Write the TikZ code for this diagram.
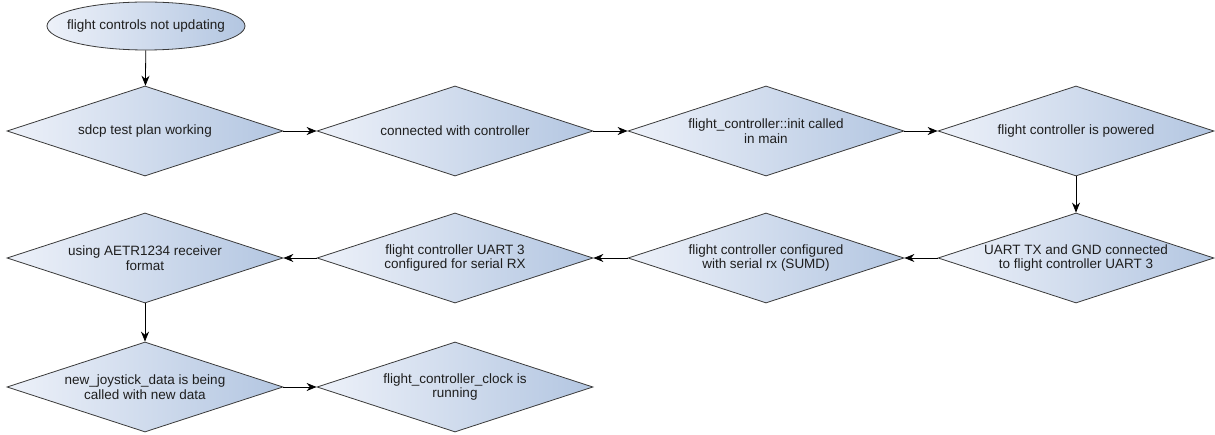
\documentclass[tikz,border=0pt]{standalone}
\usepackage{fontspec}
\setmainfont{Liberation Sans}
\usetikzlibrary{shapes.geometric, arrows.meta}
\definecolor{shadeL}{HTML}{EDF1F9}
\definecolor{shadeR}{HTML}{B3C6E1}
\definecolor{edgegray}{HTML}{3A3A3A}
\definecolor{textgray}{HTML}{1E1E1E}
\begin{document}
\begin{tikzpicture}[x=1pt, y=-1pt,
    every node/.style={font=\fontsize{13.5}{14.5}\selectfont, text=textgray, align=center},
    decision/.style={diamond, aspect=3, draw=edgegray, line width=0.8pt, left color=shadeL, right color=shadeR,
        minimum width=276pt, minimum height=90pt, inner sep=0pt},
    startnode/.style={ellipse, draw=edgegray, line width=0.8pt, left color=shadeL, right color=shadeR,
        minimum width=198pt, minimum height=48pt, inner xsep=-18pt, inner ysep=0pt},
    flow/.style={draw=black, line width=0.8pt, -{Stealth[length=10pt, width=8pt]}}]
    % --- ГРАНИЦЫ РИСУНКА ---
    \useasboundingbox (0,0) rectangle (1215,435);

    % --- НАЧАЛО ---
    \node[startnode] (start) at (146,26) {flight controls not updating};

    % --- ПЕРВЫЙ РЯД ---
    \node[decision] (plan)  at (145,131)  {sdcp test plan working};
    \node[decision] (conn)  at (455,131)  {connected with controller};
    \node[decision] (init)  at (766,131)  {flight\_controller::init called\\in main};
    \node[decision] (power) at (1076,131) {flight controller is powered};

    % --- ВТОРОЙ РЯД ---
    \node[decision] (uart)  at (1076,258) {UART TX and GND connected\\to flight controller UART 3};
    \node[decision] (sumd)  at (766,258)  {flight controller configured\\with serial rx (SUMD)};
    \node[decision] (rx)    at (455,258)  {flight controller UART 3\\configured for serial RX};
    \node[decision] (aetr)  at (145,258)  {using AETR1234 receiver\\format};

    % --- ТРЕТИЙ РЯД ---
    \node[decision] (joy)   at (145,387)  {new\_joystick\_data is being\\called with new data};
    \node[decision] (clock) at (455,387)  {flight\_controller\_clock is\\running};

    % --- СТРЕЛКИ ---
    \draw[flow] (start) -- (plan);
    \draw[flow] (plan.east) -- (conn.west);
    \draw[flow] (conn.east) -- (init.west);
    \draw[flow] (init.east) -- (power.west);
    \draw[flow] (power.south) -- (uart.north);
    \draw[flow] (uart.west) -- (sumd.east);
    \draw[flow] (sumd.west) -- (rx.east);
    \draw[flow] (rx.west) -- (aetr.east);
    \draw[flow] (aetr.south) -- (joy.north);
    \draw[flow] (joy.east) -- (clock.west);
\end{tikzpicture}
\end{document}
